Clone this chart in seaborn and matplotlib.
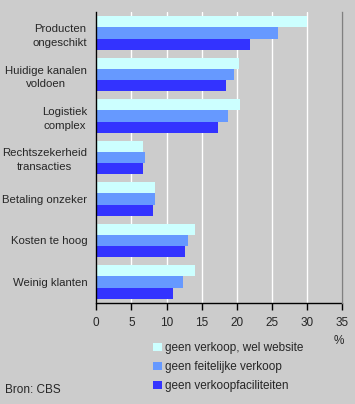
import matplotlib
matplotlib.use('Agg')
import matplotlib.pyplot as plt
import pandas as pd
import seaborn as sns

# redenen om niet online te verkopen (%)
categories = ['Producten\nongeschikt', 'Huidige kanalen\nvoldoen', 'Logistiek\ncomplex',
              'Rechtszekerheid\ntransacties', 'Betaling onzeker', 'Kosten te hoog', 'Weinig klanten']
series = ['geen verkoop, wel website', 'geen feitelijke verkoop', 'geen verkoopfaciliteiten']
website = [30.0, 20.3, 20.5, 6.7, 8.4, 14.1, 14.0]
feitelijk = [25.8, 19.6, 18.7, 6.9, 8.4, 13.1, 12.4]
faciliteiten = [21.8, 18.4, 17.3, 6.7, 8.0, 12.6, 10.9]
colors = ['#CCFFFF', '#6699FF', '#3333FF']

rows = []
for s, vals in zip(series, [website, feitelijk, faciliteiten]):
    for c, v in zip(categories, vals):
        rows.append({'reden': c, 'reeks': s, 'pct': v})
df = pd.DataFrame(rows)

sns.set_style('white')
plt.rcParams['font.family'] = ['Liberation Sans', 'DejaVu Sans']

fig = plt.figure(figsize=(3.55, 4.04), dpi=100, facecolor='#CCCCCC')
ax = fig.add_axes([0.2713, 0.2507, 0.6929, 0.7189])
ax.set_facecolor('#CCCCCC')

sns.barplot(data=df, y='reden', x='pct', hue='reeks', order=categories, hue_order=series,
            palette=colors, orient='h', width=0.8, saturation=1, edgecolor='none',
            linewidth=0, ax=ax, legend=False)

ax.set_xlim(0, 35)
ax.set_ylim(6.5, -0.5)
ax.set_xticks(range(0, 36, 5))
ax.xaxis.grid(True, color='white', linewidth=1)
ax.set_axisbelow(True)
ax.set_xlabel('')
ax.set_ylabel('')
for sp in ['top', 'bottom']:
    ax.spines[sp].set_visible(False)
ax.spines['left'].set_color('black')
ax.spines['right'].set_color('#808080')
ax.spines['left'].set_linewidth(1)
ax.spines['right'].set_linewidth(1)
ax.axhline(6.5, color='black', linewidth=1, clip_on=False)
ax.tick_params(axis='x', length=5, width=1, color='black', labelsize=8.5, pad=5, bottom=True)
ax.tick_params(axis='y', length=0, labelsize=8.2, pad=6.5)
for lbl in ax.get_yticklabels():
    lbl.set_multialignment('center')
    lbl.set_linespacing(1.45)

fig.text(0.955, 0.155, '%', fontsize=8.5, ha='center', va='center')
fig.text(0.015, 0.035, 'Bron: CBS', fontsize=8.5, ha='left', va='center')

handles = [plt.Rectangle((0, 0), 1, 1, facecolor=c, edgecolor='none') for c in colors]
fig.legend(handles, series, loc='upper left', bbox_to_anchor=(0.432, 0.153), frameon=False,
           fontsize=8.5, handlelength=0.7, handleheight=0.7, handletextpad=0.25,
           labelspacing=0.6, borderaxespad=0, borderpad=0)

fig.savefig('out.png', dpi=100, facecolor=fig.get_facecolor())
